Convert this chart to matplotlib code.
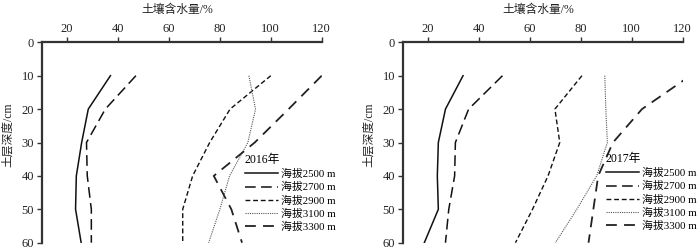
import matplotlib
matplotlib.use("Agg")
import matplotlib.pyplot as plt

plt.rcParams['font.family'] = ['Liberation Serif', 'Noto Sans CJK SC']

depth = [10, 20, 30, 40, 50, 60]
series_names = ["海拔2500 m", "海拔2700 m", "海拔2900 m", "海拔3100 m", "海拔3300 m"]

y2016_2500 = [37, 28.3, 25.7, 23.6, 23.3, 25.5]
y2016_2700 = [47, 35, 27.6, 27.9, 29.5, 29.5]
y2016_2900 = [100, 84, 76, 69.3, 65.4, 65.4]
y2016_3100 = [91.4, 94, 91, 83.8, 80, 75.6]
y2016_3300 = [120, 107, 93.7, 77.6, 84.5, 88.7]

y2017_2500 = [33.7, 26.8, 24, 23.6, 24, 18.5]
y2017_2700 = [49.2, 35.9, 30.7, 30.4, 28.1, 26.8]
y2017_2900 = [80.4, 69.8, 71.7, 67.1, 61, 54.3]
y2017_3100 = [89.4, 89.8, 90.4, 86.2, 78.4, 70]
y2017_3300 = [123, 104, 92.6, 86.8, 84.9, 83]

xticks = [20, 40, 60, 80, 100, 120]
yticks = [0, 10, 20, 30, 40, 50, 60]
xlabel = "土壤含水量/%"
ylabel = "土层深度/cm"
titles = ["2016年", "2017年"]

styles = [
    dict(color='#111111', lw=1.1, ls='-'),
    dict(color='#111111', lw=1.1, ls=(0, (7, 3.5))),
    dict(color='#111111', lw=1.0, ls=(0, (3.5, 2))),
    dict(color='#555555', lw=0.8, ls=(0, (1, 1))),
    dict(color='#222222', lw=1.3, ls=(0, (6, 4))),
]

W, H = 700, 250
fig = plt.figure(figsize=(7, 2.5), dpi=100)

def make_ax(x0, x1, y_top, y_bot, data, title, leg_xy, ylab_x, xlab_x):
    ax = fig.add_axes([x0 / W, 1 - y_bot / H, (x1 - x0) / W, (y_bot - y_top) / H])
    for vals, name, st in zip(data, series_names, styles):
        ax.plot(vals, depth, label=name, **st)
    ax.set_xlim(10, 120)
    ax.set_ylim(60, 0)
    ax.xaxis.tick_top()
    ax.set_xticks(xticks)
    ax.set_yticks(yticks)
    for s in ['right', 'bottom']:
        ax.spines[s].set_visible(False)
    for s in ['left', 'top']:
        ax.spines[s].set_linewidth(1.6)
        ax.spines[s].set_color('#333333')
    ax.tick_params(axis='both', direction='out', length=3.5, width=1.0,
                   color='#333333', labelsize=9, pad=2, labelcolor='#222222')
    fig.text(xlab_x / W, 1 - 10 / H, xlabel, ha='center', va='center', fontsize=8.5, color='#222222')
    fig.text(ylab_x / W, 1 - 135 / H, ylabel, ha='center', va='center', rotation=90,
             fontsize=8.5, color='#222222')
    ax.legend(loc='upper left', bbox_to_anchor=(leg_xy[0] / W, 1 - leg_xy[1] / H),
              bbox_transform=fig.transFigure, frameon=False, fontsize=7.8,
              title=title, title_fontsize=8.5, alignment='left',
              handlelength=3.0, handletextpad=0.3, labelspacing=0.28,
              borderpad=0, borderaxespad=0)
    return ax

make_ax(41.7, 321.7, 42.3, 242.7,
        [y2016_2500, y2016_2700, y2016_2900, y2016_3100, y2016_3300],
        titles[0], (245, 154), 8, 177)
make_ax(402.7, 682.7, 42.3, 242.7,
        [y2017_2500, y2017_2700, y2017_2900, y2017_3100, y2017_3300],
        titles[1], (606, 153), 369, 538)

fig.savefig("out.png", dpi=100)
